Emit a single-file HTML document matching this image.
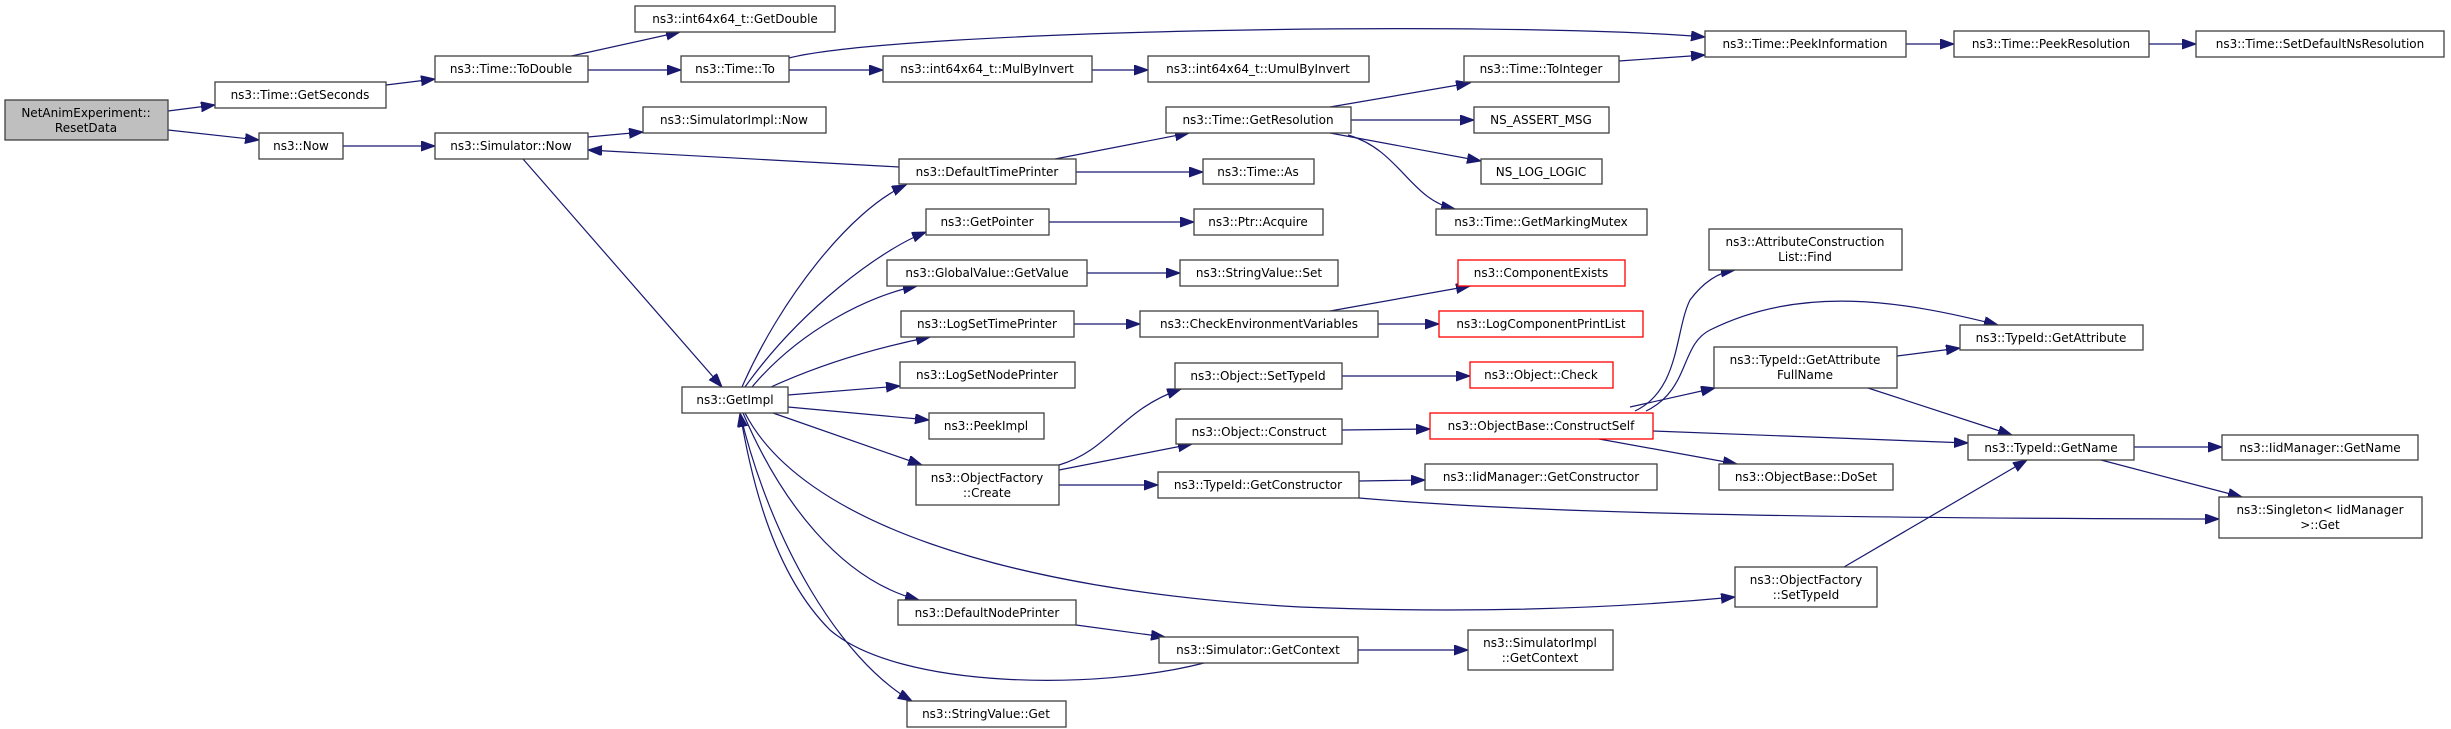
<!DOCTYPE html>
<html><head><meta charset="utf-8"><style>
html,body{margin:0;padding:0;background:#fff;}
svg{display:block;}
text{font-family:"DejaVu Sans","Liberation Sans",sans-serif;font-size:12px;fill:#000;text-anchor:middle;}
.n{fill:#fff;stroke:#404040;stroke-width:1.3;}
.r{fill:#fff;stroke:#ff0000;stroke-width:1.3;}
.e{fill:none;stroke:#191970;stroke-width:1.2;marker-end:url(#a);}
</style></head><body>
<svg width="2451" height="729" viewBox="0 0 2451 729" xmlns="http://www.w3.org/2000/svg">
<defs><marker id="a" markerUnits="userSpaceOnUse" markerWidth="16" markerHeight="12" refX="14" refY="5" orient="auto"><path d="M0,0 L14,5 L0,10 z" fill="#191970" stroke="#191970"/></marker></defs>

<!-- edges -->
<path class="e" d="M168,111 L215,105"/>
<path class="e" d="M168,130 L259,140"/>
<path class="e" d="M386,85 L435,79"/>
<path class="e" d="M567,57 L680,32"/>
<path class="e" d="M588,70 L681,70"/>
<path class="e" d="M789,58 C900,30 1500,20 1705,37"/>
<path class="e" d="M789,70 L883,70"/>
<path class="e" d="M1092,70 L1148,70"/>
<path class="e" d="M343,146 L435,146"/>
<path class="e" d="M588,137 L643,132"/>
<path class="e" d="M523,159 L722,387"/>
<path class="e" d="M899,167 L588,150"/>
<path class="e" d="M1055,159 L1189,133"/>
<path class="e" d="M1076,172 L1203,172"/>
<path class="e" d="M1330,107 L1470,83"/>
<path class="e" d="M1619,61 L1705,55"/>
<path class="e" d="M1351,120 L1474,120"/>
<path class="e" d="M1330,133 L1481,161"/>
<path class="e" d="M1348,135 C1400,150 1410,200 1455,209"/>
<path class="e" d="M1906,44 L1954,44"/>
<path class="e" d="M2149,44 L2196,44"/>
<path class="e" d="M742,387 C780,300 850,210 906,185"/>
<path class="e" d="M745,387 C800,310 880,250 926,232"/>
<path class="e" d="M752,387 C800,330 870,295 917,286"/>
<path class="e" d="M771,387 C830,360 890,345 930,337"/>
<path class="e" d="M788,395 L900,386"/>
<path class="e" d="M788,407 L929,420"/>
<path class="e" d="M773,413 L922,465"/>
<path class="e" d="M745,413 C800,520 1000,590 1300,607 C1500,615 1650,605 1735,597"/>
<path class="e" d="M743,413 C780,500 840,580 919,600"/>
<path class="e" d="M740,413 C770,540 840,660 912,701"/>
<path class="e" d="M1204,663 C1100,690 900,690 830,630 C770,570 750,470 740,413"/>
<path class="e" d="M1076,625 L1165,637"/>
<path class="e" d="M1358,650 L1468,650"/>
<path class="e" d="M1049,222 L1194,222"/>
<path class="e" d="M1087,273 L1180,273"/>
<path class="e" d="M1074,324 L1140,324"/>
<path class="e" d="M1330,311 L1470,286"/>
<path class="e" d="M1378,324 L1439,324"/>
<path class="e" d="M1059,465 C1110,450 1120,410 1181,389"/>
<path class="e" d="M1059,470 L1192,444"/>
<path class="e" d="M1059,485 L1158,485"/>
<path class="e" d="M1342,376 L1470,376"/>
<path class="e" d="M1342,430 L1430,429"/>
<path class="e" d="M1359,481 L1425,480"/>
<path class="e" d="M1359,498 C1500,510 1700,518 2219,519"/>
<path class="e" d="M1635,411 C1680,390 1675,330 1690,300 C1705,280 1720,272 1735,270"/>
<path class="e" d="M1646,411 C1690,390 1680,345 1710,330 C1800,285 1900,300 1998,325"/>
<path class="e" d="M1630,407 L1715,388"/>
<path class="e" d="M1653,431 L1968,443"/>
<path class="e" d="M1599,439 L1737,464"/>
<path class="e" d="M1897,356 L1960,348"/>
<path class="e" d="M1868,388 L2012,435"/>
<path class="e" d="M1844,567 L2027,460"/>
<path class="e" d="M2134,447 L2222,447"/>
<path class="e" d="M2101,460 L2242,497"/>

<!-- nodes -->
<rect x="5" y="100" width="163" height="40" fill="#bfbfbf" stroke="#404040" stroke-width="1.3"/>
<text x="86" y="117">NetAnimExperiment::</text><text x="86" y="132">ResetData</text>

<rect class="n" x="215" y="82" width="171" height="26"/><text x="300" y="99">ns3::Time::GetSeconds</text>
<rect class="n" x="259" y="133" width="84" height="26"/><text x="301" y="150">ns3::Now</text>
<rect class="n" x="435" y="56" width="153" height="26"/><text x="511" y="73">ns3::Time::ToDouble</text>
<rect class="n" x="435" y="133" width="153" height="26"/><text x="511" y="150">ns3::Simulator::Now</text>
<rect class="n" x="635" y="6" width="200" height="26"/><text x="735" y="23">ns3::int64x64_t::GetDouble</text>
<rect class="n" x="681" y="56" width="108" height="26"/><text x="735" y="73">ns3::Time::To</text>
<rect class="n" x="643" y="107" width="183" height="26"/><text x="734" y="124">ns3::SimulatorImpl::Now</text>
<rect class="n" x="682" y="387" width="106" height="26"/><text x="735" y="404">ns3::GetImpl</text>

<rect class="n" x="883" y="56" width="209" height="26"/><text x="987" y="73">ns3::int64x64_t::MulByInvert</text>
<rect class="n" x="1148" y="56" width="221" height="26"/><text x="1258" y="73">ns3::int64x64_t::UmulByInvert</text>
<rect class="n" x="1464" y="56" width="155" height="26"/><text x="1541" y="73">ns3::Time::ToInteger</text>
<rect class="n" x="1166" y="107" width="185" height="26"/><text x="1258" y="124">ns3::Time::GetResolution</text>
<rect class="n" x="1474" y="107" width="135" height="26"/><text x="1541" y="124">NS_ASSERT_MSG</text>
<rect class="n" x="899" y="159" width="177" height="25"/><text x="987" y="176">ns3::DefaultTimePrinter</text>
<rect class="n" x="1203" y="159" width="111" height="25"/><text x="1258" y="176">ns3::Time::As</text>
<rect class="n" x="1481" y="159" width="121" height="25"/><text x="1541" y="176">NS_LOG_LOGIC</text>
<rect class="n" x="926" y="209" width="123" height="26"/><text x="987" y="226">ns3::GetPointer</text>
<rect class="n" x="1194" y="209" width="129" height="26"/><text x="1258" y="226">ns3::Ptr::Acquire</text>
<rect class="n" x="1436" y="209" width="211" height="26"/><text x="1541" y="226">ns3::Time::GetMarkingMutex</text>
<rect class="n" x="887" y="260" width="200" height="26"/><text x="987" y="277">ns3::GlobalValue::GetValue</text>
<rect class="n" x="1180" y="260" width="158" height="26"/><text x="1259" y="277">ns3::StringValue::Set</text>
<rect class="r" x="1458" y="260" width="167" height="26"/><text x="1541" y="277">ns3::ComponentExists</text>
<rect class="n" x="901" y="311" width="173" height="26"/><text x="987" y="328">ns3::LogSetTimePrinter</text>
<rect class="n" x="1140" y="311" width="238" height="26"/><text x="1259" y="328">ns3::CheckEnvironmentVariables</text>
<rect class="r" x="1439" y="311" width="204" height="26"/><text x="1541" y="328">ns3::LogComponentPrintList</text>
<rect class="n" x="900" y="362" width="175" height="26"/><text x="987" y="379">ns3::LogSetNodePrinter</text>
<rect class="n" x="1175" y="363" width="167" height="26"/><text x="1258" y="380">ns3::Object::SetTypeId</text>
<rect class="r" x="1470" y="362" width="143" height="26"/><text x="1541" y="379">ns3::Object::Check</text>
<rect class="n" x="929" y="413" width="115" height="26"/><text x="986" y="430">ns3::PeekImpl</text>
<rect class="n" x="1176" y="419" width="166" height="25"/><text x="1259" y="436">ns3::Object::Construct</text>
<rect class="r" x="1430" y="413" width="223" height="26"/><text x="1541" y="430">ns3::ObjectBase::ConstructSelf</text>
<rect class="n" x="916" y="465" width="143" height="40"/><text x="987" y="482">ns3::ObjectFactory</text><text x="987" y="497">::Create</text>
<rect class="n" x="1158" y="472" width="201" height="26"/><text x="1258" y="489">ns3::TypeId::GetConstructor</text>
<rect class="n" x="1425" y="464" width="232" height="26"/><text x="1541" y="481">ns3::IidManager::GetConstructor</text>
<rect class="n" x="898" y="600" width="178" height="25"/><text x="987" y="617">ns3::DefaultNodePrinter</text>
<rect class="n" x="1159" y="637" width="199" height="26"/><text x="1258" y="654">ns3::Simulator::GetContext</text>
<rect class="n" x="1468" y="630" width="145" height="40"/><text x="1540" y="647">ns3::SimulatorImpl</text><text x="1540" y="662">::GetContext</text>
<rect class="n" x="907" y="701" width="159" height="26"/><text x="986" y="718">ns3::StringValue::Get</text>

<rect class="n" x="1705" y="31" width="201" height="26"/><text x="1805" y="48">ns3::Time::PeekInformation</text>
<rect class="n" x="1954" y="31" width="195" height="26"/><text x="2051" y="48">ns3::Time::PeekResolution</text>
<rect class="n" x="2196" y="31" width="248" height="26"/><text x="2320" y="48">ns3::Time::SetDefaultNsResolution</text>
<rect class="n" x="1709" y="229" width="193" height="41"/><text x="1805" y="246">ns3::AttributeConstruction</text><text x="1805" y="261">List::Find</text>
<rect class="n" x="1960" y="325" width="183" height="25"/><text x="2051" y="342">ns3::TypeId::GetAttribute</text>
<rect class="n" x="1714" y="347" width="183" height="41"/><text x="1805" y="364">ns3::TypeId::GetAttribute</text><text x="1805" y="379">FullName</text>
<rect class="n" x="1968" y="435" width="166" height="25"/><text x="2051" y="452">ns3::TypeId::GetName</text>
<rect class="n" x="2222" y="435" width="196" height="25"/><text x="2320" y="452">ns3::IidManager::GetName</text>
<rect class="n" x="1719" y="464" width="174" height="26"/><text x="1806" y="481">ns3::ObjectBase::DoSet</text>
<rect class="n" x="2219" y="497" width="203" height="41"/><text x="2320" y="514">ns3::Singleton&lt; IidManager</text><text x="2320" y="529">&gt;::Get</text>
<rect class="n" x="1735" y="567" width="142" height="40"/><text x="1806" y="584">ns3::ObjectFactory</text><text x="1806" y="599">::SetTypeId</text>
</svg>
</body></html>
